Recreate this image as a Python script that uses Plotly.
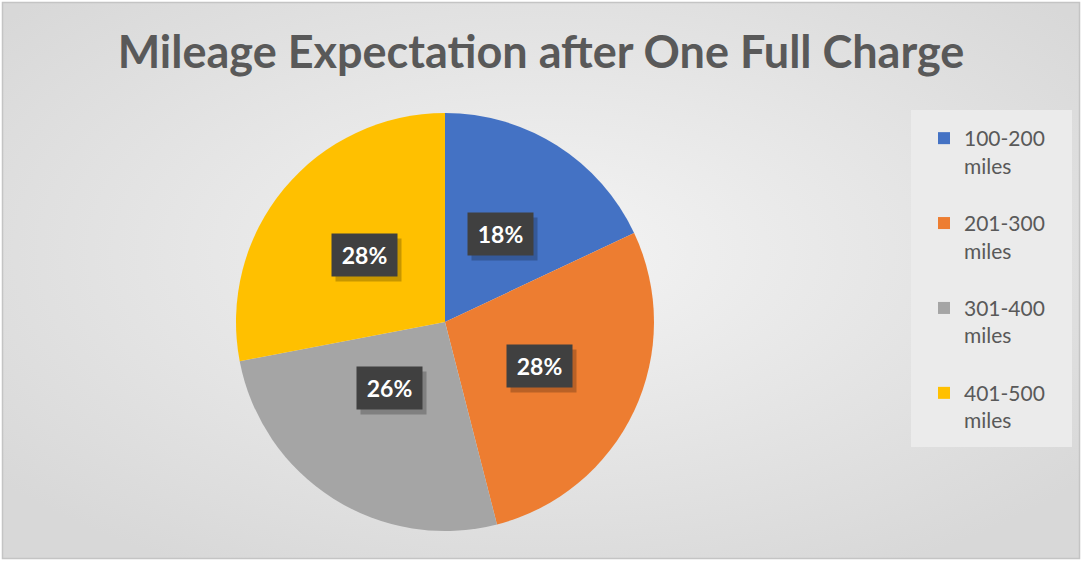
import base64
import math
import plotly.graph_objects as go

categories = ["100-200 miles", "201-300 miles", "301-400 miles", "401-500 miles"]
values = [18, 28, 26, 28]
colors = ["#4472C4", "#ED7D31", "#A5A5A5", "#FFC000"]
title_text = "Mileage Expectation after One Full Charge"

W, H = 1082, 561

legend_labels = [c.replace(" ", "<br>") + "<br> " for c in categories]

# pie domain (paper coords, margin 0)
cx, cy, r = 445, 322, 209
dom_x = [(cx - r) / W, (cx + r) / W]
dom_y = [1 - (cy + r) / H, 1 - (cy - r) / H]

fig = go.Figure()
fig.add_trace(go.Pie(
    labels=legend_labels,
    values=values,
    marker=dict(colors=colors, line=dict(width=0)),
    sort=False,
    direction="clockwise",
    rotation=0,
    textinfo="none",
    hoverinfo="label+percent",
    domain=dict(x=dom_x, y=dom_y),
))

# background: radial gradient + border
svg = f'''<svg xmlns="http://www.w3.org/2000/svg" width="{W}" height="{H}" viewBox="0 0 {W} {H}" preserveAspectRatio="none">
<defs><radialGradient id="g" cx="50%" cy="45%" r="65%">
<stop offset="0%" stop-color="#f4f4f4"/><stop offset="100%" stop-color="#d8d8d8"/></radialGradient></defs>
<rect x="0" y="0" width="{W}" height="{H}" fill="#ffffff"/>
<rect x="2.5" y="2.5" width="{W-5}" height="{H-5}" fill="url(#g)" stroke="#c4c4c4" stroke-width="1.5"/>
</svg>'''
src = "data:image/svg+xml;base64," + base64.b64encode(svg.encode()).decode()

annotations = []
total = sum(values)
cum = 0
for v in values:
    mid = (cum + v / 2) / total * 2 * math.pi
    cum += v
    px = cx + 0.5 * r * math.sin(mid)
    py = cy - 0.5 * r * math.cos(mid)
    txt = f"<b>{round(v / total * 100)}%</b>"
    # shadow
    annotations.append(dict(
        x=(px + 4) / W, y=1 - (py + 5) / H, xref="paper", yref="paper",
        text="&nbsp;", showarrow=False, font=dict(size=23, color="rgba(0,0,0,0)", family="Lato"),
        bgcolor="rgba(0,0,0,0.22)", width=63, height=40,
    ))
    annotations.append(dict(
        x=px / W, y=1 - py / H, xref="paper", yref="paper",
        text=txt, showarrow=False, font=dict(size=23, color="#ffffff", family="Lato"),
        bgcolor="#404040", width=63, height=40,
    ))

fig.update_layout(
    width=W, height=H,
    margin=dict(l=0, r=0, t=0, b=0),
    paper_bgcolor="rgba(0,0,0,0)",
    plot_bgcolor="rgba(0,0,0,0)",
    images=[dict(source=src, xref="paper", yref="paper", x=0, y=1, sizex=1, sizey=1,
                 xanchor="left", yanchor="top", sizing="stretch", layer="below")],
    shapes=[dict(type="rect", xref="paper", yref="paper",
                 x0=911 / W, x1=1072 / W, y0=1 - 447 / H, y1=1 - 110 / H,
                 fillcolor="#ebebeb", line=dict(width=0), layer="below")],
    title=dict(text=f"<b>{title_text}</b>", x=0.5, xanchor="center", y=1 - 52 / H, yanchor="middle",
               font=dict(size=45, color="#595959", family="Lato")),
    legend=dict(x=924 / W, y=1 - 118 / H, xanchor="left", yanchor="top",
                bgcolor="rgba(0,0,0,0)", font=dict(size=21, color="#595959", family="Lato"),
                valign="top", traceorder="normal"),
    annotations=annotations,
    showlegend=True,
)

fig.write_html("out.html", post_script="document.body.style.margin='0';",
               config={"displayModeBar": False})
